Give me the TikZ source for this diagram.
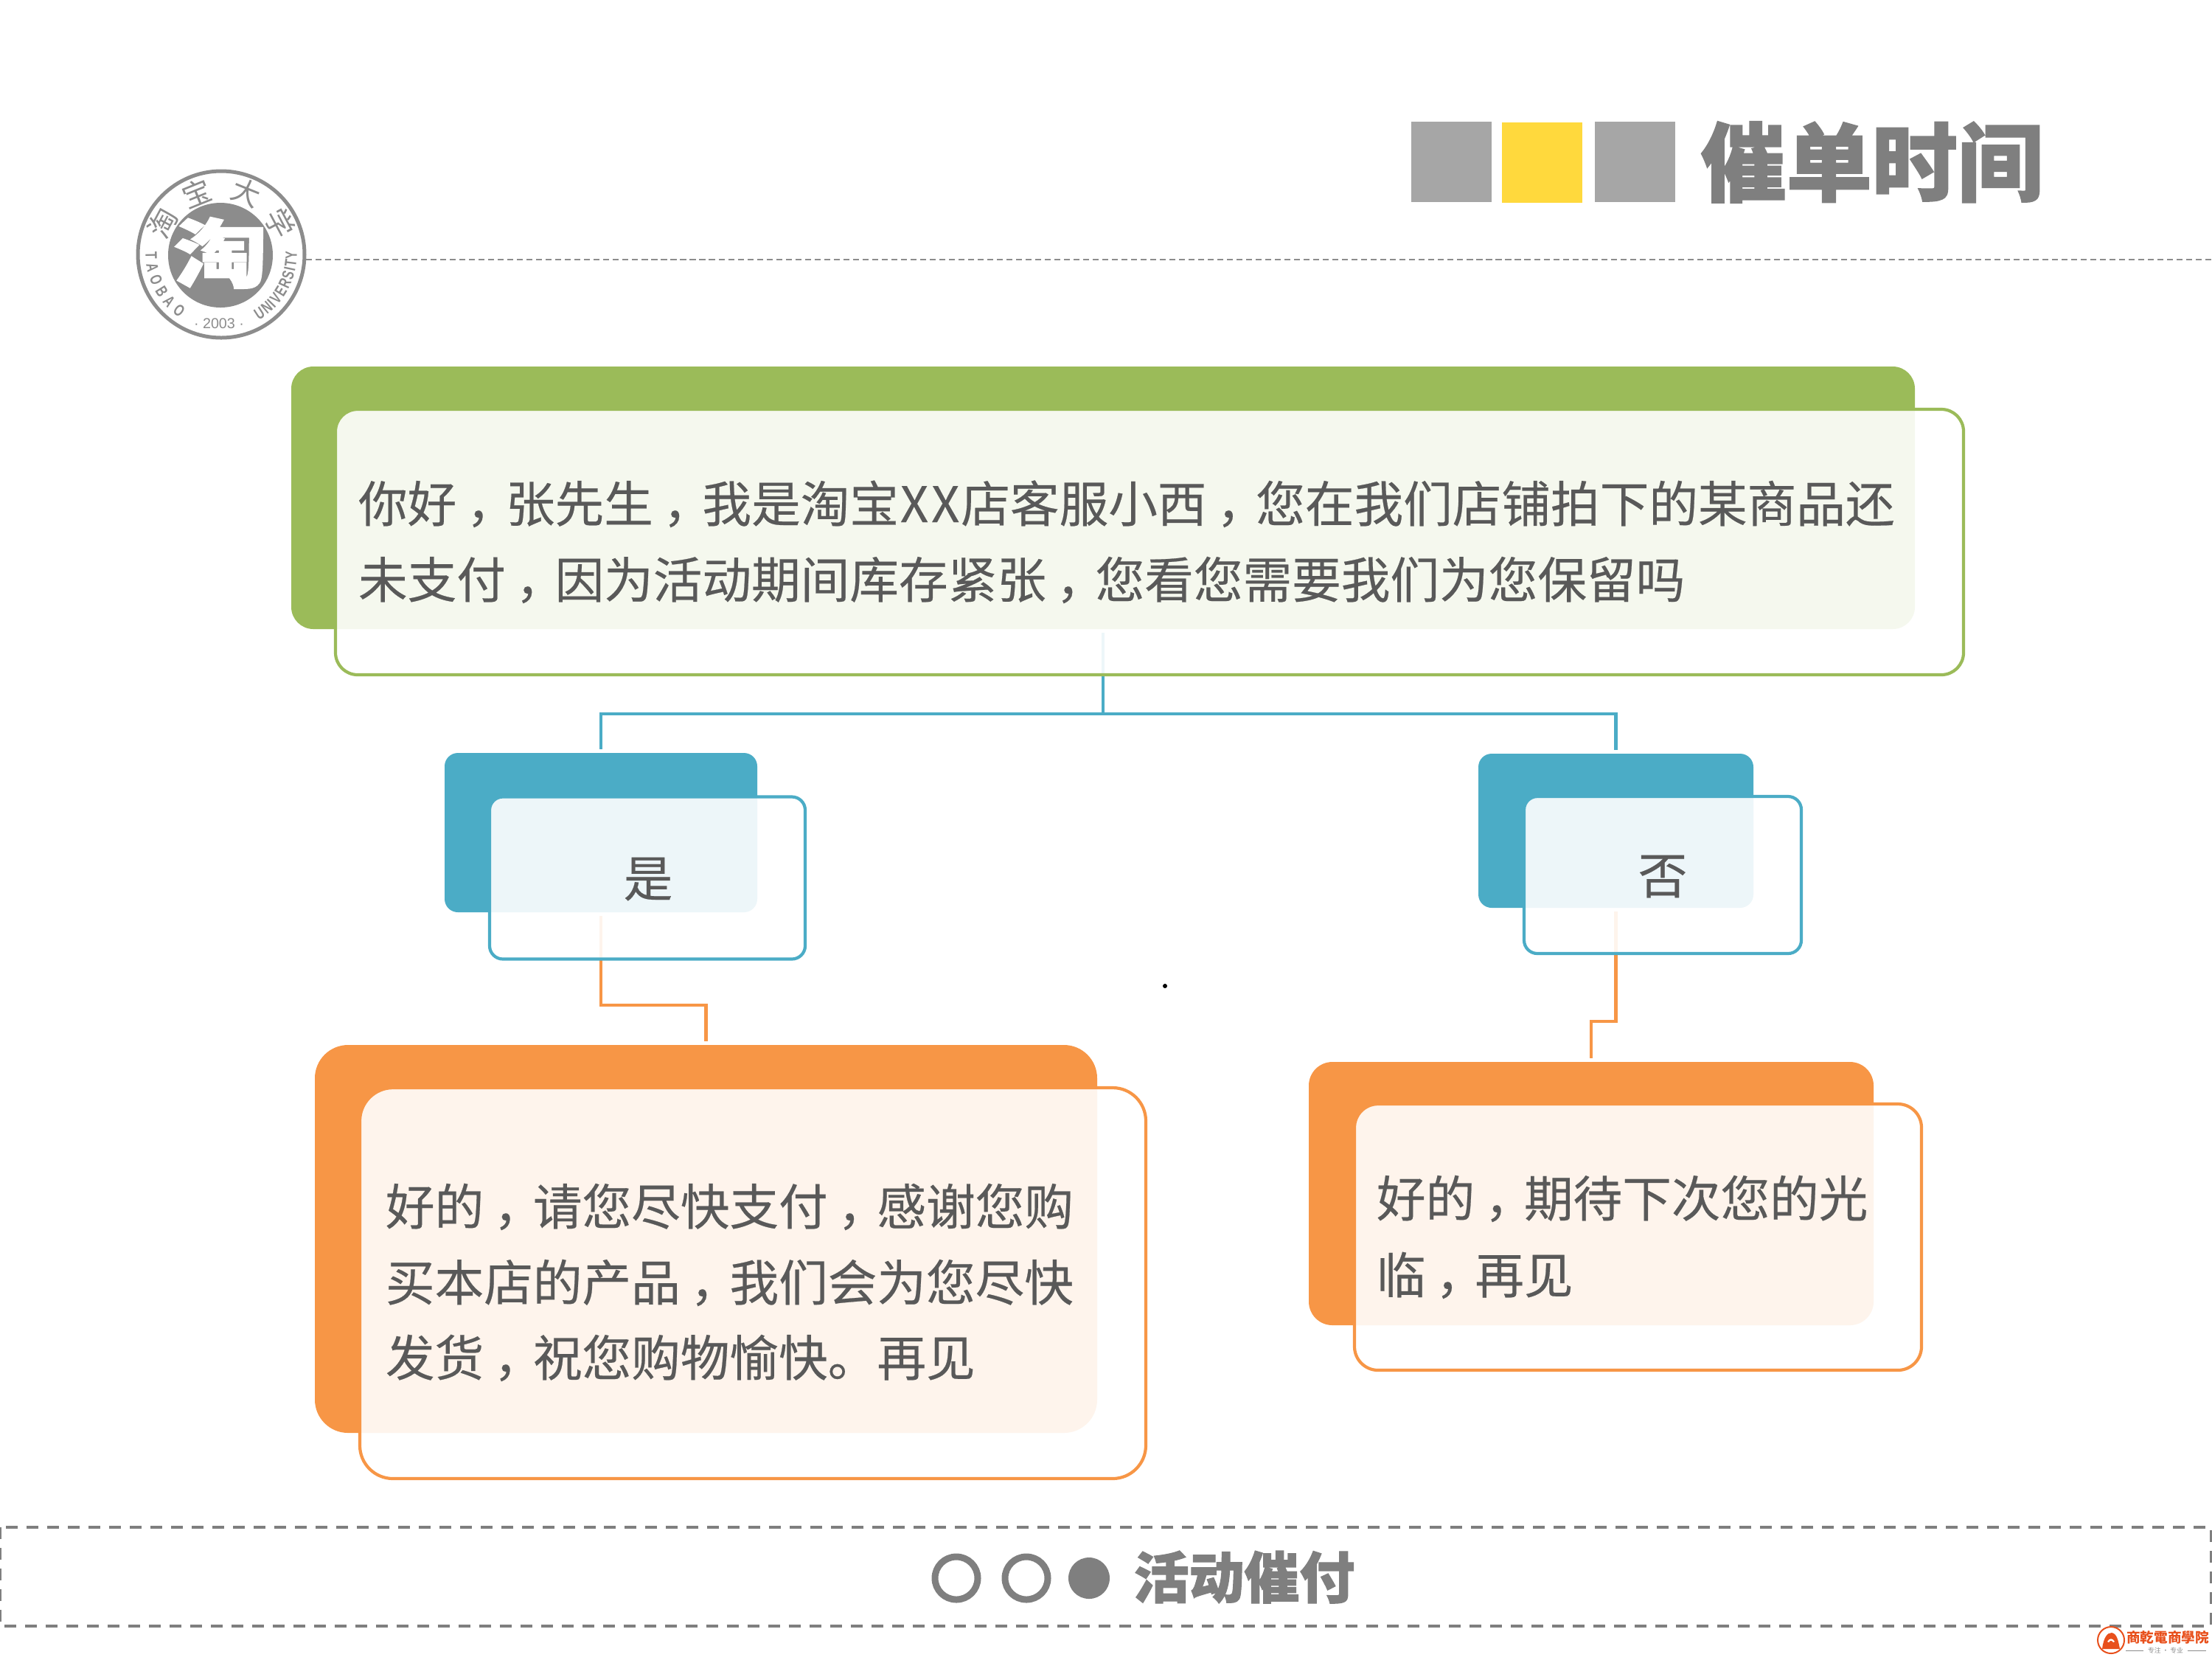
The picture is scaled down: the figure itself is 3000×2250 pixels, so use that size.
\documentclass[tikz,border=0pt]{standalone}
\usepackage{fontspec}
\setmainfont[FakeBold=0.35]{Noto Sans CJK SC}
\newfontfamily\plain{Noto Sans CJK SC}
\newfontfamily\heavy[BoldFeatures={FakeBold=1.5}]{Noto Sans CJK SC}
\newfontfamily\tcfont{Noto Sans CJK TC}
\newfontfamily\latinfont{Liberation Sans}
\newcommand\cma{\kern.2em，\kern-.2em}
\newcommand\xgap{\kern.03em}
\definecolor{cgreen}{HTML}{9BBB59}
\definecolor{cblue}{HTML}{4BACC6}
\definecolor{corange}{HTML}{F79646}
\definecolor{ctext}{HTML}{595959}
\definecolor{cgrey}{HTML}{7F7F7F}
\definecolor{csq}{HTML}{A6A6A6}
\definecolor{cyel}{HTML}{FFD93D}
\definecolor{clogo}{HTML}{8C8C8C}
\definecolor{cmark}{HTML}{E8501C}
\def\px{0.01cm}
\pgfdeclarelayer{conn}
\pgfsetlayers{conn,main}
\tikzset{
  backbox/.style={rectangle,draw=none,fill=#1,outer sep=0pt,inner sep=0pt},
  frontbox/.style={rectangle,draw=#1,line width=4.2*\px,fill=white,fill opacity=.9,draw opacity=1,outer sep=0pt,inner sep=0pt},
  link/.style={line width=4.2*\px,draw=#1,shorten >=5*\px,shorten <=5*\px,line join=miter},
  body/.style={anchor=base west,inner sep=0pt,outer sep=0pt,text=ctext,align=left,font=\fontsize{18.95}{29.3}\selectfont},
  sq/.style={rectangle,fill=#1,draw=none,minimum width=109*\px,minimum height=109*\px,inner sep=0pt},
  ltr/.style={inner sep=0pt,text=clogo,font=\latinfont\bfseries\fontsize{6.3}{7}\selectfont},
  cjkring/.style={inner sep=0pt,text=clogo,font=\plain\fontsize{11}{12}\selectfont},
  ringdot/.style={circle,draw=cgrey,line width=9*\px,minimum size=58*\px,inner sep=0pt}
}
\begin{document}
\begin{tikzpicture}[x=0.01cm,y=-0.01cm]
\useasboundingbox (0,0) rectangle (3000,2250);
% header
\draw[line width=2.5*\px,draw=clogo,dash pattern=on 2.3pt off 1.4pt] (415,352) -- (3000,352);
\node[sq=csq] (s1) at (1968,219) {};
\node[sq=cyel] (s2) at (2091,220) {};
\node[sq=csq] (s3) at (2217,219) {};
\node[anchor=base west,inner sep=0pt,text=cgrey,font=\heavy\bfseries\fontsize{33}{34}\selectfont] (title) at (2306,264) {催单时间};
% logo
\node[circle,draw=clogo,line width=5*\px,fill=white,minimum size=226*\px,inner sep=0pt] (ring) at (300,345) {};
\node[circle,fill=clogo,minimum size=142*\px,inner sep=0pt] (disc) at (299,346) {};
\node[inner sep=0pt,text=white,xscale=1.25,font=\heavy\bfseries\fontsize{29}{30}\selectfont] (taoglyph) at (299,343) {淘};
\foreach \c/\a in {淘/152,宝/112,大/68,学/28}
  \node[cjkring,rotate=\a-90] at ({300+90*cos(\a)},{345-90*sin(\a)}) {\c};
\foreach \c/\a in {T/181,A/191,O/201.5,B/212,A/222,O/233}
  \node[ltr,rotate=\a+90,xscale=.72] at ({300+95*cos(\a)},{345-95*sin(\a)}) {\c};
\foreach \c/\a in {U/303,N/310.5,I/315.9,V/321.1,E/328.1,R/335.4,S/342.7,I/347.9,T/352.8,Y/359.4}
  \node[ltr,rotate=\a+90,xscale=.72] at ({300+95*cos(\a)},{345-95*sin(\a)}) {\c};
\node[inner sep=0pt,text=clogo,font=\latinfont\fontsize{5.6}{6}\selectfont] (year) at (297,439) {· 2003 ·};
% boxes
\node[backbox=cgreen,rounded corners=30*\px,minimum width=2202*\px,minimum height=356*\px] (gb) at (1496,675) {};
\node[frontbox=cgreen,rounded corners=30*\px,minimum width=2208*\px,minimum height=360*\px] (gf) at (1559,735) {};
\node[backbox=cblue,rounded corners=18*\px,minimum width=424*\px,minimum height=216*\px] (bl) at (815,1129) {};
\node[frontbox=cblue,rounded corners=18*\px,minimum width=428*\px,minimum height=220*\px] (blf) at (878,1190.5) {};
\node[backbox=cblue,rounded corners=18*\px,minimum width=373*\px,minimum height=209*\px] (br) at (2191.5,1126.5) {};
\node[frontbox=cblue,rounded corners=18*\px,minimum width=376*\px,minimum height=213*\px] (brf) at (2255,1186.5) {};
\node[backbox=corange,rounded corners=45*\px,minimum width=1061*\px,minimum height=526*\px] (ol) at (957.5,1680) {};
\node[frontbox=corange,rounded corners=45*\px,minimum width=1066*\px,minimum height=530*\px] (olf) at (1021,1740) {};
\node[backbox=corange,rounded corners=32*\px,minimum width=766*\px,minimum height=357*\px] (or) at (2158,1618.5) {};
\node[frontbox=corange,rounded corners=32*\px,minimum width=769*\px,minimum height=361*\px] (orf) at (2221.5,1677.5) {};
% connectors
\coordinate (bus) at (1496,968);
\coordinate (elbl) at (815,1363);
\coordinate (elbr) at (2191.5,1385);
\begin{pgfonlayer}{conn}
\draw[link=cblue] (gb.south) -- (bus) -| (bl.north);
\draw[link=cblue] (gb.south) -- (bus) -| (br.north);
\draw[link=corange] (bl.south) -- (elbl) -| (ol.north);
\draw[link=corange] (br.south) -- (elbr) -| (or.north);
\end{pgfonlayer}
% texts
\node[body] (t1a) at (486,708) {你好\cma 张先生\cma 我是淘宝\xgap X\xgap\xgap X\xgap 店客服小西\cma 您在我们店铺拍下的某商品还};
\node[body] (t1b) at (486,811) {未支付\cma 因为活动期间库存紧张\cma 您看您需要我们为您保留吗};
\node[body,anchor=base] (t2) at (879,1216) {是};
\node[body,anchor=base] (t3) at (2255,1212) {否};
\node[body] (t4a) at (523,1661) {好的\cma 请您尽快支付\cma 感谢您购};
\node[body] (t4b) at (523,1764) {买本店的产品\cma 我们会为您尽快};
\node[body] (t4c) at (523,1866) {发货\cma 祝您购物愉快。再见};
\node[body] (t5a) at (1867,1650) {好的\cma 期待下次您的光};
\node[body] (t5b) at (1867,1754) {临\cma 再见};
\node[circle,fill=black,minimum size=6*\px,inner sep=0pt] (dot) at (1580,1337) {};
% footer
\draw[line width=4*\px,draw=cgrey,dash pattern=on 4.55pt off 3.41pt] (0,2071) rectangle (2999,2205);
\node[ringdot] (c1) at (1297,2140) {};
\node[ringdot] (c2) at (1392,2140) {};
\node[circle,fill=cgrey,minimum size=56*\px,inner sep=0pt] (c3) at (1477,2140) {};
\node[anchor=base west,inner sep=0pt,text=cgrey,font=\heavy\bfseries\fontsize{21.3}{23}\selectfont] (foot) at (1537,2167) {活动催付};
% watermark
\node[circle,draw=cmark,line width=2*\px,fill=white,minimum size=36*\px,inner sep=0pt] (wm) at (2863,2224) {};
\fill[cmark] (2851,2236) .. controls (2853,2220) and (2858,2214) .. (2864,2214) .. controls (2871,2215) and (2873,2225) .. (2875,2236) -- cycle;
\fill[white] (2858,2226) .. controls (2861,2221) and (2865,2221) .. (2868,2226) -- (2866,2227) .. controls (2864,2224) and (2862,2224) .. (2860,2227) -- cycle;
\node[inner sep=0pt,text=cmark,font=\tcfont\bfseries\fontsize{5.3}{6}\selectfont] (wmt) at (2940,2220) {商乾電商學院};
\node[inner sep=0pt,text=clogo,font=\plain\fontsize{2.5}{3}\selectfont] (wms) at (2937,2238) {专注 · 专业};
\draw[line width=1*\px,draw=clogo] (wms.west) ++(-5,0) -- (2883,2238);
\draw[line width=1*\px,draw=clogo] (wms.east) ++(5,0) -- (2992,2238);
\end{tikzpicture}
\end{document}
